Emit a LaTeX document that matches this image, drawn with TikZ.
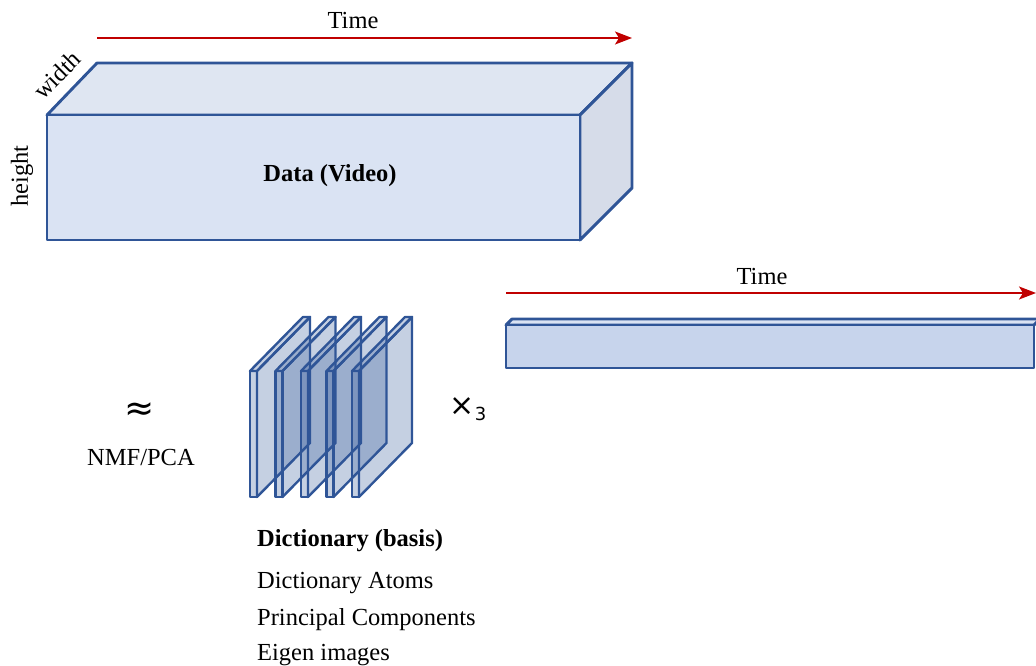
\documentclass[tikz,border=0pt]{standalone}
\usepackage{fontspec}
\setmainfont{Liberation Serif}
\newfontfamily\symbfont{DejaVu Sans}
\usepackage{tikz}
\usetikzlibrary{arrows.meta}
\definecolor{boxline}{HTML}{2F5597}
\definecolor{timered}{HTML}{C00000}
\definecolor{frontface}{HTML}{DAE3F3}
\definecolor{topface}{HTML}{DFE6F2}
\definecolor{sideface}{HTML}{D6DCE9}
\definecolor{barface}{HTML}{C7D4EC}

\begin{document}
\begin{tikzpicture}[x=1pt,y=-1pt,
		faceline/.style={draw=boxline,line width=2.9pt,line join=round},
		plateface/.style={draw=boxline,line width=2.4pt,line join=round,fill=boxline,fill opacity=0.28},
		timearrow/.style={timered,line width=1.4pt,-{Stealth[length=17pt,width=13pt,inset=4pt]}},
		lbl/.style={font=\fontsize{24.5}{28}\selectfont,inner sep=0pt}]
	\useasboundingbox (0,0) rectangle (1036,666);
	% video cube
	\draw[faceline,fill=topface](47,115)--(97,63)--(632,63)--(580,115)--cycle;
	\draw[faceline,fill=sideface](580,115)--(632,63)--(632,188)--(580,240)--cycle;
	\draw[faceline,fill=frontface](47,115) rectangle (580,240);
	\node[lbl,font=\fontsize{24.5}{28}\selectfont\bfseries] (data) at (330,176) {Data (Video)};
	\node[lbl,rotate=45] (width) at (57,75) {width};
	\node[lbl,rotate=90] (height) at (22,176) {height};
	\draw[timearrow] (97,38) coordinate(t1s) -- (632,38) coordinate(t1e);
	\node[lbl] (time1) at (353,21) {Time};
	% coefficient bar
	\draw[faceline,fill=frontface](506,325)--(512,319)--(1040,319)--(1034,325)--cycle;
	\draw[faceline,fill=barface](506,325) rectangle (1034,368);
	\draw[timearrow] (506,293) coordinate(t2s) -- (1036,293) coordinate(t2e);
	\node[lbl] (time2) at (762,277) {Time};
	% dictionary plates
	\foreach \i in {0,...,4}{
		\pgfmathsetmacro{\xo}{250+25.5*\i}
		\draw[plateface](\xo,371)--(\xo+53,317)--(\xo+60,317)--(\xo+7,371)--cycle;
		\draw[plateface](\xo+7,371)--(\xo+60,317)--(\xo+60,443)--(\xo+7,497)--cycle;
		\draw[plateface](\xo,371) rectangle (\xo+7,497);
	}
	\node[font=\symbfont\fontsize{36}{40}\selectfont,inner sep=0pt] (approx) at (140,412) {≈};
	\node[lbl] (nmf) at (141,458) {NMF/PCA};
	\node[font=\symbfont\fontsize{30}{34}\selectfont,inner sep=0pt] (times) at (462,407) {×};
	\node[font=\symbfont\fontsize{18}{20}\selectfont,inner sep=0pt,anchor=west] (three) at (times.east) [yshift=-7pt] {3};
	\node[lbl,anchor=west,font=\fontsize{24.5}{28}\selectfont\bfseries] (dict) at (257,541) {Dictionary (basis)};
	\node[lbl,anchor=west] (atoms) at (257,583) {Dictionary Atoms};
	\node[lbl,anchor=west] (pcs) at (257,620) {Principal Components};
	\node[lbl,anchor=west] (eigen) at (257,655) {Eigen images};
\end{tikzpicture}
\end{document}
